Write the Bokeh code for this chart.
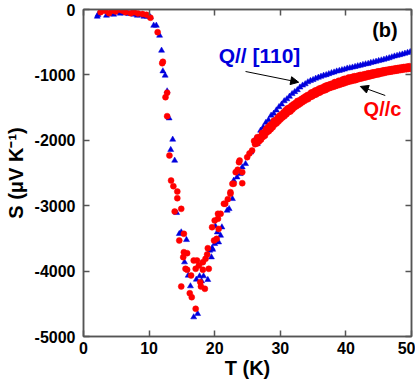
from bokeh.plotting import figure
from bokeh.models import LinearAxis, Range1d, FixedTicker, Label, Arrow, NormalHead
from bokeh.embed import file_html
from bokeh.resources import INLINE

# ---- data: Q // [110] (blue triangles) ----
blue_T = [2.1, 2.2, 3.5, 4.0, 4.6, 5.1, 5.6, 6.15, 6.9, 7.3, 7.7, 8.2, 8.6, 9.2, 9.7, 10.2,
          10.7, 11.1, 11.6, 11.9, 12.1, 12.45, 12.75, 13.05, 13.6, 13.3, 13.9,
          14.2, 14.6, 14.9, 15.7, 15.4, 15.96, 16.3, 16.8, 17.4, 17.2, 17.7, 18.3, 18.0, 18.95,
          19.5, 19.7, 19.25, 19.6, 20.0, 20.1, 20.4, 20.6, 20.9, 21.1, 21.9, 22.2, 22.7, 22.9,
          23.4, 23.9, 24.2, 24.7, 25.5, 26.2, 26.5,
          27.0, 27.4, 27.8, 28.2, 28.6, 29.0, 29.4, 29.8, 30.2, 30.6, 31.0, 31.4, 31.8, 32.2,
          32.6, 33.0, 33.4, 33.8, 34.2, 34.6, 35.0, 35.4, 35.8, 36.2, 36.6, 37.0, 37.4, 37.8,
          38.2, 38.6, 39.0, 39.4, 39.8, 40.2, 40.6, 41.0, 41.4, 41.8, 42.2, 42.6, 43.0, 43.4,
          43.8, 44.2, 44.6, 45.0, 45.4, 45.8, 46.2, 46.6, 47.0, 47.4, 47.8, 48.2, 48.6, 49.0,
          49.4, 49.8]
blue_S = [-107, -80, -92, -70, -76, -41, -60, -56, -66, -60, -76, -92, -85, -107, -107, -117,
          -245, -245, -398, -627, -943, -1009, -1249, -1662, -1988, -2145, -2309,
          -3109, -3430, -3405, -3522, -3863, -4067, -4230, -4704, -4653, -4128, -4077, -4077, -4154, -4133,
          -3787, -3670, -3685, -3650, -3583, -3313, -3405, -3558, -3456, -3329, -3073, -3048, -2895, -2615,
          -2564, -2513, -2411, -2360, -2182, -1978, -2054,
          -1850, -1800, -1730, -1690, -1620, -1590, -1540, -1490, -1450, -1400, -1370, -1330, -1290, -1260,
          -1230, -1190, -1160, -1140, -1110, -1090, -1075, -1055, -1040, -1025, -1010, -1000, -985, -970,
          -960, -945, -935, -925, -915, -900, -895, -885, -875, -865, -856, -845, -835, -828,
          -815, -805, -795, -785, -775, -765, -752, -742, -728, -715, -705, -695, -685, -672,
          -660, -648]

# ---- data: Q // c (red circles) ----
red_T = [2.6, 3.1, 3.3, 3.9, 4.4, 4.9, 5.6, 6.0, 6.4, 7.2, 7.7, 8.3, 9.0, 9.6, 10.2, 11.3,
         12.0, 12.1, 12.5, 12.75, 12.75, 13.1, 13.35, 13.7, 14.3, 14.3,
         13.9, 14.9, 15.3, 14.6, 15.3, 15.8, 15.2, 15.55, 15.8, 14.9, 16.2, 16.5, 16.4, 16.8,
         17.3, 17.1, 17.6, 17.8, 17.9, 18.5, 18.2, 19.1, 18.2, 18.6, 18.85, 18.95, 17.1, 19.9,
         20.3, 19.6, 20.0, 20.5, 20.5, 20.6, 20.9, 21.4, 21.6, 22.0, 22.4, 22.4, 22.7, 22.9,
         23.2, 23.5, 23.7, 23.8, 24.2, 24.2, 24.95, 25.3, 25.7, 26.5,
         26.0, 26.3, 26.6, 26.9, 27.2, 27.5, 27.8, 28.1, 28.4, 28.7, 29.0, 29.3, 29.6, 29.9,
         30.2, 30.5, 30.8, 31.1, 31.4, 31.7, 32.0, 32.3, 32.6, 32.9, 33.2, 33.5, 33.8, 34.1,
         34.4, 34.7, 35.0, 35.3, 35.6, 35.9, 36.2, 36.5, 36.8, 37.1, 37.4, 37.7, 38.0, 38.3,
         38.6, 38.9, 39.2, 39.5, 39.8, 40.1, 40.4, 40.7, 41.0, 41.3, 41.6, 41.9, 42.2, 42.5,
         42.8, 43.1, 43.4, 43.7, 44.0, 44.3, 44.6, 44.9, 45.2, 45.5, 45.8, 46.1, 46.4, 46.7,
         47.0, 47.3, 47.6, 47.9, 48.2, 48.5, 48.8, 49.1, 49.4, 49.7,
         26.15, 26.45, 26.75, 27.05, 27.35, 27.65, 27.95, 28.25, 28.55, 28.85, 29.15, 29.45,
         29.75, 30.05, 30.35, 30.65, 30.95, 31.25, 31.55, 31.85, 32.15, 32.45, 32.75, 33.05,
         33.35, 33.65, 33.95, 34.25, 34.55, 34.85, 35.15, 35.45, 35.75, 36.05, 36.35, 36.65,
         36.95, 37.25, 37.55, 37.85, 38.15, 38.45, 38.75, 39.05, 39.35, 39.65, 39.95, 40.25,
         40.55, 40.85, 41.15, 41.45, 41.75, 42.05, 42.35, 42.65, 42.95, 43.25, 43.55, 43.85,
         44.15, 44.45, 44.75, 45.05, 45.35, 45.65, 45.95, 46.25, 46.55, 46.85, 47.15, 47.45,
         47.75, 48.05, 48.35, 48.65, 48.95, 49.25, 49.55, 49.85]
red_S = [-41, -5, -20, -56, -15, -30, -5, -20, -41, -56, -41, -60, -70, -80, -127, -347,
         -821, -800, -1341, -1274, -1631, -2232, -2615, -2701, -2783, -2885,
         -3089, -3048, -3430, -3532, -3711, -3726, -3787, -3965, -3980, -4235, -4338, -4399, -4067, -3838,
         -3838, -3965, -3914, -4169, -4235, -4271, -3980, -3965, -3863, -3812, -3746, -3650, -4576, -3532,
         -3507, -3329, -3226, -3200, -3124, -3355, -3124, -2971, -2971, -2900, -2818, -2793, -2665, -2665,
         -2487, -2450, -2334, -2309, -2487, -2656, -2258, -2200, -2156, -1952,
         -2010, -2000, -1960, -1950, -1890, -1880, -1830, -1800, -1770, -1750, -1700, -1690, -1650, -1620,
         -1600, -1570, -1540, -1510, -1500, -1470, -1450, -1430, -1400, -1390, -1370, -1350, -1330, -1310,
         -1300, -1270, -1260, -1240, -1230, -1210, -1200, -1190, -1170, -1160, -1150, -1140, -1130, -1110,
         -1110, -1090, -1090, -1070, -1060, -1060, -1040, -1040, -1030, -1020, -1020, -1010, -1000, -1000,
         -990, -985, -975, -975, -965, -960, -955, -945, -945, -935, -930, -925, -920, -915,
         -910, -905, -900, -895, -890, -885, -880, -878, -872, -868,
         -2060, -2050, -2020, -1990, -1950, -1930, -1880, -1860, -1830, -1800, -1760, -1740,
         -1710, -1680, -1650, -1630, -1600, -1570, -1560, -1530, -1500, -1480, -1460, -1440,
         -1420, -1400, -1380, -1370, -1340, -1330, -1310, -1300, -1280, -1270, -1250, -1240,
         -1230, -1210, -1200, -1190, -1180, -1170, -1160, -1150, -1140, -1130, -1120, -1110,
         -1100, -1095, -1085, -1080, -1070, -1060, -1055, -1045, -1040, -1030, -1025, -1015,
         -1010, -1000, -995, -990, -980, -975, -968, -960, -955, -950, -945, -940,
         -935, -930, -925, -920, -915, -912, -908, -905]

x_ticks = [0, 10, 20, 30, 40, 50]
y_ticks = [0, -1000, -2000, -3000, -4000, -5000]
y_tick_labels = ["0", "-1000", "-2000", "-3000", "-4000", "-5000"]

BLUE = "#0000dd"
RED = "#ff0000"
AXC = "#555555"
FONT = "Liberation Sans"

p = figure(width=415, height=384, output_backend="svg", toolbar_location=None,
           x_range=Range1d(0, 50), y_range=Range1d(-5000, 0),
           min_border_left=83, min_border_right=4, min_border_top=9, min_border_bottom=48,
           x_axis_label="T (K)", y_axis_label="S (\u03bcV K\u207b\u00b9)")
p.grid.visible = False
p.outline_line_color = AXC
p.outline_line_width = 1.5
p.border_fill_color = "white"

for ax in (p.xaxis[0], p.yaxis[0]):
    ax.axis_line_color = AXC
    ax.axis_line_width = 1.5
    ax.major_tick_line_color = AXC
    ax.major_tick_line_width = 1.5
    ax.major_tick_in = 6
    ax.major_tick_out = 0
    ax.minor_tick_line_color = None
    ax.major_label_text_font = FONT
    ax.major_label_text_font_style = "bold"
    ax.major_label_text_font_size = "16px"
    ax.major_label_text_color = "black"
    ax.axis_label_text_font = FONT
    ax.axis_label_text_font_style = "bold"
    ax.axis_label_text_font_size = "20px"
    ax.axis_label_text_color = "black"

p.xaxis[0].ticker = FixedTicker(ticks=x_ticks)
p.yaxis[0].ticker = FixedTicker(ticks=y_ticks)
p.yaxis[0].major_label_overrides = {t: s for t, s in zip(y_ticks, y_tick_labels)}
p.xaxis[0].major_label_standoff = 5
p.xaxis[0].axis_label_standoff = 0
p.yaxis[0].major_label_standoff = 8
p.yaxis[0].axis_label_standoff = 5

for loc, tk in (("above", x_ticks), ("right", y_ticks)):
    a = LinearAxis(ticker=FixedTicker(ticks=tk))
    a.axis_line_color = AXC
    a.axis_line_width = 1.5
    a.major_tick_line_color = AXC
    a.major_tick_line_width = 1.5
    a.major_tick_in = 6
    a.major_tick_out = 0
    a.minor_tick_line_color = None
    a.major_label_text_color = None
    a.major_label_text_font_size = "1px"
    a.major_label_standoff = 0
    p.add_layout(a, loc)

p.scatter(blue_T, blue_S, marker="triangle", size=6, fill_color=BLUE, line_color=BLUE, line_width=0.5)
p.scatter(red_T, red_S, marker="circle", size=6, fill_color=RED, line_color=RED, line_width=0.5)

p.add_layout(Label(x=20.6, y=-703, text="Q// [110]", text_color=BLUE, text_font=FONT,
                   text_font_style="bold", text_font_size="21px", text_baseline="middle"))
p.add_layout(Label(x=42.7, y=-1514, text="Q//c", text_color=RED, text_font=FONT,
                   text_font_style="bold", text_font_size="20px", text_baseline="middle"))
p.add_layout(Label(x=44.0, y=-321, text="(b)", text_color="black", text_font=FONT,
                   text_font_style="bold", text_font_size="20px", text_baseline="middle"))

p.add_layout(Arrow(x_start=24.7, y_start=-948, x_end=32.8, y_end=-1112, line_width=1,
                   line_color="black",
                   end=NormalHead(size=8, fill_color="black", line_color="black", line_width=1)))
p.add_layout(Arrow(x_start=46.0, y_start=-1315, x_end=42.2, y_end=-1177, line_width=1,
                   line_color="black",
                   end=NormalHead(size=8, fill_color="black", line_color="black", line_width=1)))

open("out.html", "w").write(file_html(p, INLINE))
